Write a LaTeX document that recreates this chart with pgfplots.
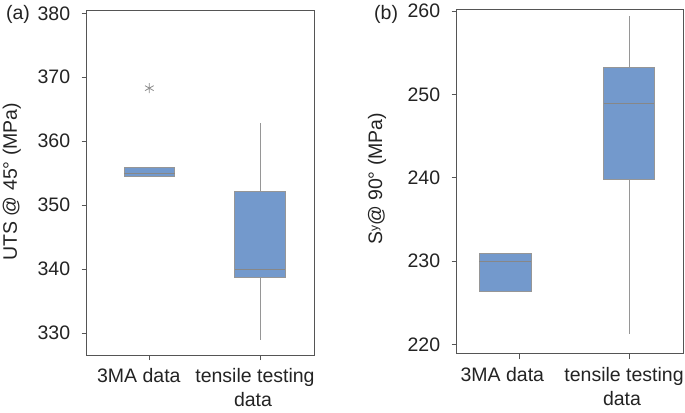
\documentclass[border=0pt]{standalone}
\usepackage{fontspec}
\setmainfont{Liberation Sans}
\usepackage{pgfplots}
\pgfplotsset{compat=1.18}
\definecolor{boxblue}{RGB}{115,153,204}
\definecolor{boxedge}{RGB}{150,150,150}
\definecolor{medgray}{RGB}{135,135,135}
\definecolor{whiskgray}{RGB}{150,150,150}
\definecolor{framegray}{RGB}{85,85,85}
\definecolor{txt}{RGB}{35,35,35}
\pgfplotsset{
  myaxis/.style={
    scale only axis,
    clip=false,
    anchor=south west,
    axis line style={framegray, line width=1bp},
    tick align=outside,
    xtick pos=lower, ytick pos=left,
    major tick length=5bp,
    tick style={framegray, line width=0.9bp},
    xtick={0,1},
    xticklabel style={align=center, font=\fontsize{19.5bp}{23.4bp}\selectfont, text=txt, yshift=-5bp},
    yticklabel style={font=\fontsize{19.5bp}{23.4bp}\selectfont, text=txt, xshift=-8bp},
    /pgf/number format/assume math mode=true,
    ylabel style={font=\fontsize{19.5bp}{23.4bp}\selectfont, text=txt},
  },
  whisk/.style={draw=whiskgray, line width=0.8bp},
  bx/.style={draw=boxedge, fill=boxblue, line width=0.7bp},
  med/.style={draw=medgray, line width=0.9bp},
}
\begin{document}
\begin{tikzpicture}
\useasboundingbox (0bp,0bp) rectangle (685bp,413bp);
% ---------------- panel (a)
\begin{axis}[myaxis,
  at={(86.7bp,58bp)}, width=227.3bp, height=344bp,
  xmin=-0.566, xmax=1.488, ymin=326.6, ymax=380.36,
  ytick={330,340,350,360,370,380},
  xticklabels={3MA data\hspace*{21bp},{tensile testing\hspace*{10bp}\\data\hspace*{14bp}}},
  ylabel={UTS @ 45° (MPa)},
  ylabel style={at={(axis description cs:-0.329,0.504)}, anchor=center},
]
% 3MA data: box 354.5-355.9, median 354.9
\addplot[bx] coordinates {(-0.23,354.5) (0.23,354.5) (0.23,355.9) (-0.23,355.9)} -- cycle;
\addplot[med] coordinates {(-0.23,354.9) (0.23,354.9)};
% tensile testing data: whiskers 329.0-362.9, box 338.8-352.1, median 339.9
\addplot[whisk] coordinates {(1,352.1) (1,362.9)};
\addplot[whisk] coordinates {(1,338.8) (1,329.0)};
\addplot[bx] coordinates {(0.7725,338.8) (1.2275,338.8) (1.2275,352.1) (0.7725,352.1)} -- cycle;
\addplot[med] coordinates {(0.7725,339.9) (1.2275,339.9)};
% outlier
\addplot[only marks, mark=asterisk, mark size=5bp, color={rgb,255:red,140;green,140;blue,140}, line width=0.8bp] coordinates {(0,368.3)};
\node[font=\fontsize{19.5bp}{23.4bp}\selectfont, text=txt] at (axis description cs:-0.302,0.99) {(a)};
\end{axis}
% ---------------- panel (b)
\begin{axis}[myaxis,
  at={(456.7bp,59bp)}, width=226.3bp, height=344.7bp,
  xmin=-0.571, xmax=1.492, ymin=218.84, ymax=260.2,
  ytick={220,230,240,250,260},
  xticklabels={3MA data\hspace*{34bp},{tensile testing\hspace*{10bp}\\data\hspace*{14bp}}},
  ylabel={S\raisebox{0.2em}{\fontsize{12bp}{12bp}\selectfont y}@ 90° (MPa)},
  ylabel style={at={(axis description cs:-0.352,0.508)}, anchor=center},
]
% 3MA data: box 226.35-230.9, median 229.95 (drawn left of its tick)
\addplot[bx] coordinates {(-0.3645,226.35) (0.1065,226.35) (0.1065,230.9) (-0.3645,230.9)} -- cycle;
\addplot[med] coordinates {(-0.3645,229.95) (0.1065,229.95)};
% tensile testing data: whiskers 221.2-259.4, box 239.8-253.2, median 248.85
\addplot[whisk] coordinates {(1,253.2) (1,259.4)};
\addplot[whisk] coordinates {(1,239.8) (1,221.2)};
\addplot[bx] coordinates {(0.77,239.8) (1.23,239.8) (1.23,253.2) (0.77,253.2)} -- cycle;
\addplot[med] coordinates {(0.77,248.85) (1.23,248.85)};
\node[font=\fontsize{19.5bp}{23.4bp}\selectfont, text=txt] at (axis description cs:-0.312,0.986) {(b)};
\end{axis}
\end{tikzpicture}
\end{document}
